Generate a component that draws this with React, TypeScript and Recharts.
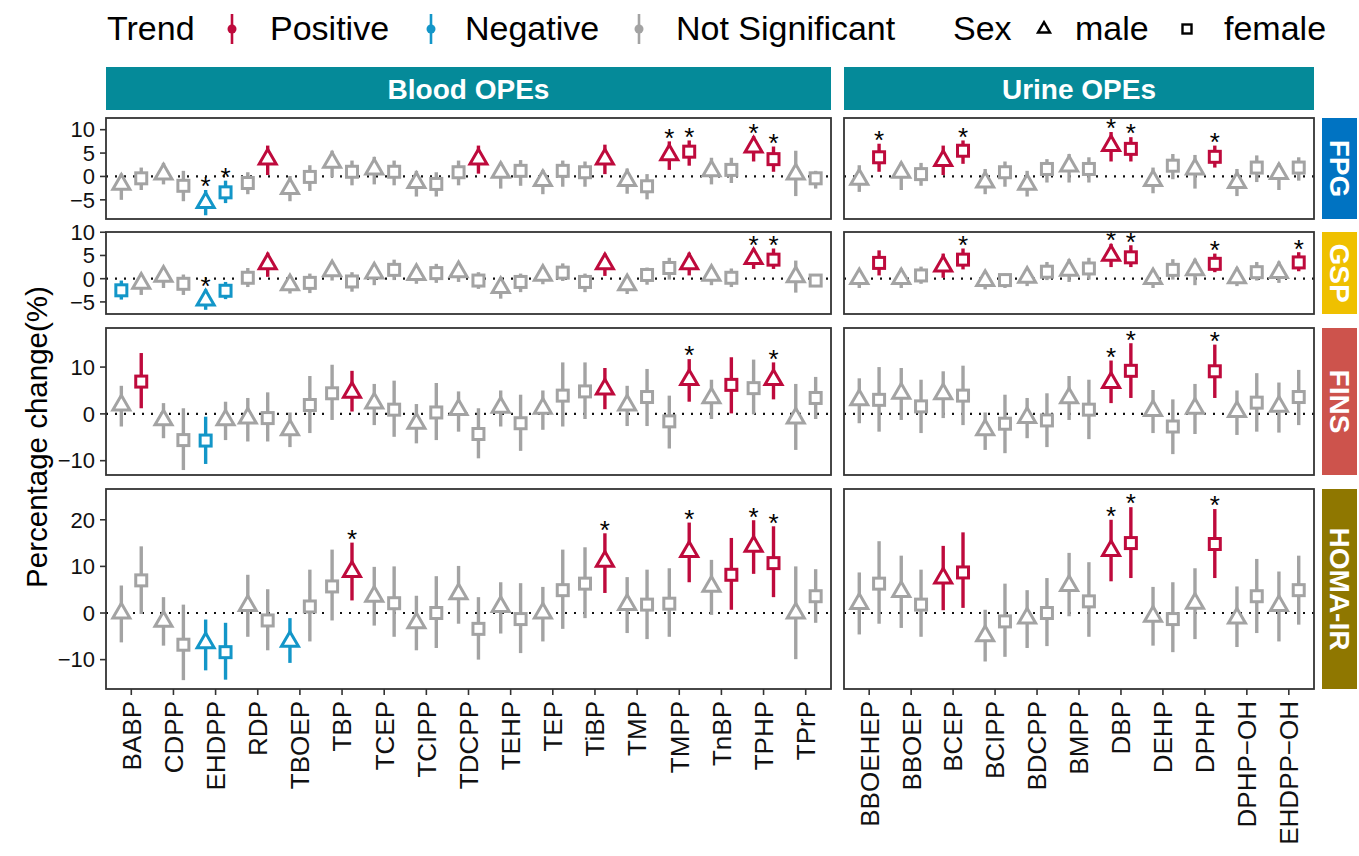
import React from 'react';
import { ScatterChart, Scatter, XAxis, YAxis, ErrorBar, ReferenceLine } from 'recharts';

// [estimate, lower CI, upper CI, trend (P positive / N negative / S not significant), star]
type Pt = [number, number, number, string, number];

const bloodCompounds = ['BABP', 'CDPP', 'EHDPP', 'RDP', 'TBOEP', 'TBP', 'TCEP', 'TCIPP', 'TDCPP', 'TEHP', 'TEP', 'TiBP', 'TMP', 'TMPP', 'TnBP', 'TPHP', 'TPrP'];
const urineCompounds = ['BBOEHEP', 'BBOEP', 'BCEP', 'BCIPP', 'BDCPP', 'BMPP', 'DBP', 'DEHP', 'DPHP', 'DPHP\u2212OH', 'EHDPP\u2212OH'];

const outcomes = ['FPG', 'GSP', 'FINS', 'HOMA-IR'];
const yTicksFPG = [-5, 0, 5, 10];
const yTicksGSP = [-5, 0, 5, 10];
const yTicksFINS = [-10, 0, 10];
const yTicksHOMA = [-10, 0, 10, 20];

// ---------- Blood ----------
const bloodFPGMale: Pt[] = [
  [-1.7, -5.0, 0.6, 'S', 0], [0.5, -1.7, 2.9, 'S', 0], [-5.6, -8.3, -2.9, 'N', 1], [3.7, 0.3, 6.6, 'P', 0],
  [-2.6, -5.3, 0.1, 'S', 0], [3.0, -0.2, 5.5, 'S', 0], [1.6, -1.7, 4.2, 'S', 0], [-1.3, -4.3, 1.2, 'S', 0],
  [3.7, 0.6, 6.6, 'P', 0], [0.9, -2.6, 3.0, 'S', 0], [-0.9, -3.8, 1.4, 'S', 0], [3.7, 0.5, 6.8, 'P', 0],
  [-0.9, -3.7, 1.7, 'S', 0], [4.6, 1.4, 7.5, 'P', 1], [1.2, -1.7, 4.0, 'S', 0], [6.3, 3.2, 8.6, 'P', 1],
  [0.5, -4.2, 5.5, 'S', 0],
];
const bloodFPGFemale: Pt[] = [
  [-0.4, -2.9, 1.9, 'S', 0], [-2.0, -5.3, 1.2, 'S', 0], [-3.4, -5.7, -0.9, 'N', 1], [-1.4, -3.8, 0.9, 'S', 0],
  [-0.1, -3.1, 2.4, 'S', 0], [1.0, -1.9, 3.4, 'S', 0], [1.0, -1.9, 3.4, 'S', 0], [-1.6, -4.3, 0.9, 'S', 0],
  [0.9, -1.9, 3.4, 'S', 0], [1.2, -2.0, 3.5, 'S', 0], [1.2, -2.2, 3.4, 'S', 0], [0.9, -2.2, 3.2, 'S', 0],
  [-2.1, -4.9, 0.5, 'S', 0], [5.3, 2.3, 7.7, 'P', 1], [1.4, -1.4, 4.0, 'S', 0], [3.7, 1.0, 6.4, 'P', 1],
  [-0.4, -2.6, 1.2, 'S', 0],
];
const bloodGSPMale: Pt[] = [
  [-1.0, -3.5, 1.1, 'S', 0], [0.5, -2.0, 2.3, 'S', 0], [-4.6, -6.7, -2.3, 'N', 1], [3.2, 0.4, 5.6, 'P', 0],
  [-1.3, -3.2, 0.7, 'S', 0], [1.7, -0.4, 3.7, 'S', 0], [1.2, -1.4, 3.0, 'S', 0], [0.9, -1.1, 2.7, 'S', 0],
  [1.5, -0.7, 3.4, 'S', 0], [-1.9, -4.3, 0.3, 'S', 0], [0.7, -1.2, 2.6, 'S', 0], [3.2, 0.6, 5.4, 'P', 0],
  [-1.3, -3.3, 0.4, 'S', 0], [3.2, 0.7, 5.6, 'P', 0], [0.7, -1.4, 2.5, 'S', 0], [4.3, 2.1, 6.5, 'P', 1],
  [0.4, -3.0, 3.9, 'S', 0],
];
const bloodGSPFemale: Pt[] = [
  [-2.5, -4.5, -0.4, 'N', 0], [-1.1, -3.5, 0.9, 'S', 0], [-2.6, -4.4, -0.7, 'N', 0], [0.2, -1.8, 2.3, 'S', 0],
  [-0.9, -3.1, 1.1, 'S', 0], [-0.6, -2.8, 1.4, 'S', 0], [1.9, -0.3, 4.1, 'S', 0], [1.2, -0.9, 3.2, 'S', 0],
  [-0.4, -2.2, 1.4, 'S', 0], [-0.7, -2.9, 1.1, 'S', 0], [1.3, -0.5, 3.3, 'S', 0], [-0.7, -2.9, 1.1, 'S', 0],
  [0.8, -1.3, 2.4, 'S', 0], [2.3, -0.2, 4.5, 'S', 0], [0.2, -1.8, 2.2, 'S', 0], [4.1, 2.1, 6.5, 'P', 1],
  [-0.4, -1.8, 0.9, 'S', 0],
];
const bloodFINSMale: Pt[] = [
  [1.9, -2.7, 6.0, 'S', 0], [-1.3, -5.2, 2.3, 'S', 0], [-1.3, -5.6, 2.6, 'S', 0], [-0.9, -5.9, 3.4, 'S', 0],
  [-3.4, -7.1, 0.3, 'S', 0], [4.6, 0.5, 9.2, 'P', 0], [2.3, -2.4, 6.4, 'S', 0], [-2.0, -6.3, 2.1, 'S', 0],
  [0.9, -3.8, 4.8, 'S', 0], [1.4, -2.7, 5.0, 'S', 0], [1.2, -3.4, 5.0, 'S', 0], [5.3, 1.0, 9.8, 'P', 0],
  [1.9, -2.6, 6.0, 'S', 0], [7.3, 2.6, 11.7, 'P', 1], [3.4, -1.1, 7.3, 'S', 0], [7.3, 3.1, 11.0, 'P', 1],
  [-0.9, -7.7, 6.4, 'S', 0],
];
const bloodFINSFemale: Pt[] = [
  [6.9, 1.2, 13.0, 'P', 0], [-5.6, -12.0, 1.2, 'S', 0], [-5.7, -10.7, -0.6, 'N', 0], [-0.9, -5.9, 4.6, 'S', 0],
  [1.9, -4.1, 8.1, 'S', 0], [4.4, -1.3, 10.5, 'S', 0], [0.9, -4.9, 7.1, 'S', 0], [0.3, -5.6, 6.6, 'S', 0],
  [-4.3, -9.5, 1.2, 'S', 0], [-2.0, -7.9, 4.1, 'S', 0], [3.9, -2.7, 11.0, 'S', 0], [4.8, -1.1, 11.0, 'S', 0],
  [3.6, -2.6, 9.6, 'S', 0], [-1.6, -7.4, 3.9, 'S', 0], [6.2, 0.1, 12.1, 'P', 0], [5.5, -0.1, 11.6, 'S', 0],
  [3.4, -1.1, 7.9, 'S', 0],
];
const bloodHOMAMale: Pt[] = [
  [0.0, -6.3, 5.9, 'S', 0], [-1.8, -7.0, 3.4, 'S', 0], [-6.4, -12.3, -1.4, 'N', 0], [1.6, -5.1, 8.2, 'S', 0],
  [-6.1, -10.7, -1.1, 'N', 0], [8.9, 2.7, 15.1, 'P', 1], [3.6, -2.7, 9.9, 'S', 0], [-2.1, -8.0, 3.7, 'S', 0],
  [4.1, -2.3, 10.1, 'S', 0], [1.4, -4.4, 6.6, 'S', 0], [0.0, -6.1, 5.6, 'S', 0], [11.1, 4.3, 17.1, 'P', 1],
  [1.8, -4.3, 7.7, 'S', 0], [13.2, 6.6, 19.4, 'P', 1], [5.7, -0.4, 11.4, 'S', 0], [14.3, 8.4, 19.9, 'P', 1],
  [0.0, -9.9, 10.0, 'S', 0],
];
const bloodHOMAFemale: Pt[] = [
  [7.0, -0.2, 14.3, 'S', 0], [-6.8, -14.4, 1.8, 'S', 0], [-8.4, -14.3, -2.1, 'N', 0], [-1.6, -8.0, 5.1, 'S', 0],
  [1.4, -6.1, 9.3, 'S', 0], [5.7, -1.6, 13.6, 'S', 0], [2.1, -5.1, 10.0, 'S', 0], [0.0, -7.5, 7.9, 'S', 0],
  [-3.4, -10.0, 3.4, 'S', 0], [-1.3, -8.6, 6.4, 'S', 0], [4.9, -3.4, 13.6, 'S', 0], [6.3, -1.1, 14.1, 'S', 0],
  [1.8, -5.6, 9.3, 'S', 0], [2.0, -5.1, 9.6, 'S', 0], [8.2, 0.7, 16.1, 'P', 0], [10.7, 3.4, 18.6, 'P', 1],
  [3.6, -2.1, 9.4, 'S', 0],
];

// ---------- Urine ----------
const urineFPGMale: Pt[] = [
  [-0.6, -3.3, 2.4, 'S', 0], [0.9, -2.9, 3.0, 'S', 0], [3.4, 0.3, 6.6, 'P', 0], [-1.2, -3.8, 1.6, 'S', 0],
  [-1.7, -4.3, 1.2, 'S', 0], [2.2, -1.3, 4.8, 'S', 0], [6.6, 3.2, 9.5, 'P', 1], [-0.9, -3.6, 1.9, 'S', 0],
  [1.6, -2.6, 4.6, 'S', 0], [-1.3, -4.2, 1.6, 'S', 0], [0.6, -2.9, 2.8, 'S', 0],
];
const urineFPGFemale: Pt[] = [
  [4.1, 1.0, 7.0, 'P', 1], [0.5, -2.0, 2.9, 'S', 0], [5.5, 2.7, 7.7, 'P', 1], [0.9, -2.2, 3.2, 'S', 0],
  [1.6, -1.3, 3.7, 'S', 0], [1.6, -1.3, 4.1, 'S', 0], [5.9, 3.2, 8.4, 'P', 1], [2.3, -0.6, 4.8, 'S', 0],
  [4.2, 1.9, 6.6, 'P', 1], [1.9, -1.2, 4.5, 'S', 0], [1.9, -0.9, 4.1, 'S', 0],
];
const urineGSPMale: Pt[] = [
  [0.0, -2.0, 1.8, 'S', 0], [0.0, -2.0, 2.2, 'S', 0], [2.7, 0.2, 5.4, 'P', 0], [-0.4, -2.3, 1.4, 'S', 0],
  [0.3, -1.6, 2.3, 'S', 0], [1.8, -0.7, 4.2, 'S', 0], [5.0, 2.5, 7.5, 'P', 1], [0.0, -2.0, 2.1, 'S', 0],
  [1.9, -1.4, 4.3, 'S', 0], [0.2, -1.6, 2.4, 'S', 0], [1.3, -0.9, 3.7, 'S', 0],
];
const urineGSPFemale: Pt[] = [
  [3.4, 0.7, 6.1, 'P', 0], [0.7, -1.1, 2.6, 'S', 0], [4.1, 2.0, 6.5, 'P', 1], [-0.3, -2.0, 1.1, 'S', 0],
  [1.5, -0.3, 3.6, 'S', 0], [2.2, -0.2, 4.5, 'S', 0], [4.6, 2.5, 7.2, 'P', 1], [1.9, -0.2, 4.2, 'S', 0],
  [3.2, 1.4, 5.4, 'P', 1], [1.4, -0.4, 3.6, 'S', 0], [3.5, 1.6, 5.7, 'P', 1],
];
const urineFINSMale: Pt[] = [
  [3.0, -2.0, 7.6, 'S', 0], [4.4, -1.3, 9.8, 'S', 0], [4.3, -0.9, 9.1, 'S', 0], [-3.4, -7.7, 0.3, 'S', 0],
  [-0.8, -5.2, 3.4, 'S', 0], [3.4, -1.3, 8.1, 'S', 0], [6.7, 2.3, 11.4, 'P', 1], [0.7, -4.1, 5.1, 'S', 0],
  [1.2, -4.3, 6.4, 'S', 0], [0.5, -4.5, 5.0, 'S', 0], [1.6, -4.0, 6.7, 'S', 0],
];
const urineFINSFemale: Pt[] = [
  [3.0, -3.8, 10.0, 'S', 0], [1.6, -4.1, 7.3, 'S', 0], [3.9, -2.4, 10.3, 'S', 0], [-2.1, -8.4, 4.1, 'S', 0],
  [-1.4, -7.1, 4.4, 'S', 0], [0.9, -5.4, 7.3, 'S', 0], [9.2, 3.4, 15.1, 'P', 1], [-2.7, -8.6, 3.1, 'S', 0],
  [9.1, 3.4, 14.8, 'P', 1], [2.4, -3.8, 8.7, 'S', 0], [3.6, -2.4, 9.4, 'S', 0],
];
const urineHOMAMale: Pt[] = [
  [2.0, -4.6, 8.7, 'S', 0], [4.6, -3.2, 12.3, 'S', 0], [7.5, 0.6, 14.4, 'P', 0], [-4.9, -10.4, 0.7, 'S', 0],
  [-1.1, -7.5, 4.9, 'S', 0], [5.9, -0.7, 12.9, 'S', 0], [13.4, 6.8, 20.0, 'P', 1], [-0.7, -7.0, 5.6, 'S', 0],
  [2.1, -5.6, 9.6, 'S', 0], [-1.1, -7.3, 5.7, 'S', 0], [1.6, -6.1, 8.9, 'S', 0],
];
const urineHOMAFemale: Pt[] = [
  [6.3, -2.3, 15.4, 'S', 0], [1.8, -5.1, 9.3, 'S', 0], [8.7, 1.1, 17.3, 'P', 0], [-1.8, -9.4, 6.3, 'S', 0],
  [0.0, -7.1, 7.5, 'S', 0], [2.5, -5.1, 10.9, 'S', 0], [15.0, 7.5, 22.7, 'P', 1], [-1.3, -8.4, 6.6, 'S', 0],
  [14.8, 7.5, 22.3, 'P', 1], [3.6, -4.3, 11.6, 'S', 0], [4.9, -2.5, 12.3, 'S', 0],
];

// ---------- styling / layout ----------
const FONT = '"Liberation Sans", Arial, Helvetica, sans-serif';
const COLORS: Record<string, string> = { P: '#BE0A3C', N: '#1396C8', S: '#A3A3A3' };
const TREND_ORDER: Record<string, number> = { N: 0, S: 1, P: 2 };
const STRIP_TEAL = '#058A99';
const ROW_COLORS = ['#0073C2', '#EFC000', '#CD534C', '#8F7700'];
const DODGE = 0.236;
const YW = 62;
const XH = 167;
const PAD = 16;

const rows = [
  { top: 118, height: 101, domain: [-9.1, 12.5], ticks: yTicksFPG },
  { top: 232, height: 82, domain: [-7.6, 10.05], ticks: yTicksGSP },
  { top: 328, height: 147, domain: [-13.06, 18.35], ticks: yTicksFINS },
  { top: 489, height: 200, domain: [-16.3, 26.6], ticks: yTicksHOMA },
];
const cols = [
  { left: 106, width: 725, title: 'Blood OPEs', compounds: bloodCompounds,
    data: [[bloodFPGMale, bloodFPGFemale], [bloodGSPMale, bloodGSPFemale], [bloodFINSMale, bloodFINSFemale], [bloodHOMAMale, bloodHOMAFemale]] },
  { left: 844, width: 470, title: 'Urine OPEs', compounds: urineCompounds,
    data: [[urineFPGMale, urineFPGFemale], [urineGSPMale, urineGSPFemale], [urineFINSMale, urineFINSFemale], [urineHOMAMale, urineHOMAFemale]] },
];

type P = { x: number; y: number; err: [number, number]; trend: string; sex: string; star: number; hi: number };

function buildPoints(compounds: string[], male: Pt[], female: Pt[]): P[] {
  const out: P[] = [];
  compounds.forEach((_, i) => {
    const pair = [
      { sex: 'male', d: male[i], so: 0 },
      { sex: 'female', d: female[i], so: 1 },
    ];
    pair.sort((a, b) => TREND_ORDER[a.d[3]] - TREND_ORDER[b.d[3]] || a.so - b.so);
    pair.forEach((p, k) => {
      const [est, lo, hi, trend, star] = p.d;
      out.push({
        x: i + 1 + (k === 0 ? -DODGE : DODGE),
        y: est,
        err: [est - lo, hi - est],
        trend,
        sex: p.sex,
        star,
        hi,
      });
    });
  });
  return out;
}

const triShape = (color: string) => (props: any) => {
  const { cx, cy } = props;
  if (cx == null || cy == null) return <g />;
  const s = 17;
  const h = (s * Math.sqrt(3)) / 2;
  return (
    <polygon
      points={`${cx},${cy - (2 * h) / 3} ${cx + s / 2},${cy + h / 3} ${cx - s / 2},${cy + h / 3}`}
      fill="#fff"
      stroke={color}
      strokeWidth={3}
    />
  );
};
const sqShape = (color: string) => (props: any) => {
  const { cx, cy } = props;
  if (cx == null || cy == null) return <g />;
  return <rect x={cx - 5.5} y={cy - 5.5} width={11} height={11} fill="#fff" stroke={color} strokeWidth={3} />;
};
const starShape = (props: any) => {
  const { cx, cy } = props;
  if (cx == null || cy == null) return <g />;
  return (
    <text x={cx} y={cy + 5.3} textAnchor="middle" fontSize={26} fontFamily={FONT} fill="#000">
      *
    </text>
  );
};

const minusFmt = (v: number) => (v < 0 ? '\u2212' + Math.abs(v) : String(v));

function Panel({ col, rowIdx }: { col: typeof cols[number]; rowIdx: number }) {
  const row = rows[rowIdx];
  const showY = col.left < 500;
  const showX = rowIdx === rows.length - 1;
  const n = col.compounds.length;
  const pts = buildPoints(col.compounds, col.data[rowIdx][0], col.data[rowIdx][1]);
  const w = col.width + (showY ? YW : 0);
  const h = row.height + PAD + (showX ? XH : 0);
  const series: React.ReactNode[] = [];
  ['N', 'S', 'P'].forEach((t) => {
    ['male', 'female'].forEach((s) => {
      const d = pts.filter((p) => p.trend === t && p.sex === s);
      if (!d.length) return;
      series.push(
        <Scatter
          key={t + s}
          data={d}
          isAnimationActive={false}
          shape={s === 'male' ? triShape(COLORS[t]) : sqShape(COLORS[t])}
        >
          <ErrorBar dataKey="err" direction="y" width={0} stroke={COLORS[t]} strokeWidth={3.4} />
        </Scatter>
      );
    });
  });
  const stars = pts.filter((p) => p.star).map((p) => ({ x: p.x, y: p.hi }));
  const names = col.compounds;
  const XTick = (props: any) => {
    const { x, y, payload } = props;
    return (
      <text
        transform={`translate(${x},${y}) rotate(-90)`}
        textAnchor="end"
        dy="0.36em"
        fontSize={26}
        fontFamily={FONT}
        fill="#111"
      >
        {names[payload.value - 1]}
      </text>
    );
  };
  return (
    <div style={{ position: 'absolute', left: col.left - (showY ? YW : 0), top: row.top - PAD, width: w, height: h }}>
      <ScatterChart width={w} height={h} margin={{ top: PAD, right: 0, bottom: 0, left: 0 }}>
        <XAxis
          type="number"
          dataKey="x"
          domain={[0.4, n + 0.6]}
          ticks={names.map((_, i) => i + 1)}
          interval={0}
          hide={!showX}
          height={XH}
          axisLine={false}
          tickLine={{ stroke: '#333', strokeWidth: 1.6 }}
          tickSize={6}
          tickMargin={6}
          tick={<XTick />}
        />
        <YAxis
          type="number"
          dataKey="y"
          domain={row.domain}
          ticks={row.ticks}
          interval={0}
          hide={!showY}
          width={YW}
          axisLine={false}
          tickLine={{ stroke: '#333', strokeWidth: 1.6 }}
          tickSize={6}
          tickMargin={5}
          tickFormatter={minusFmt}
          tick={{ fill: '#111', fontSize: 22, fontFamily: FONT }}
        />
        <ReferenceLine y={0} stroke="#111" strokeWidth={2.2} strokeDasharray="2 7" />
        {series}
        <Scatter key="stars" data={stars} isAnimationActive={false} shape={starShape} />
      </ScatterChart>
    </div>
  );
}

function Overlay() {
  const legendY = 40;
  const keyY = 29;
  const legendText = (x: number, s: string) => (
    <text x={x} y={legendY} fontSize={34} fontFamily={FONT} fill="#000">
      {s}
    </text>
  );
  const key = (x: number, c: string) => (
    <g>
      <line x1={x} x2={x} y1={14} y2={44} stroke={c} strokeWidth={2.6} />
      <circle cx={x} cy={keyY} r={4.5} fill={c} />
    </g>
  );
  const ts = 12;
  const th = (ts * Math.sqrt(3)) / 2;
  return (
    <svg
      width={1359}
      height={856}
      style={{ position: 'absolute', left: 0, top: 0, pointerEvents: 'none' }}
    >
      {legendText(107, 'Trend')}
      {key(232, COLORS.P)}
      {legendText(270, 'Positive')}
      {key(431, COLORS.N)}
      {legendText(465, 'Negative')}
      {key(639, COLORS.S)}
      {legendText(676, 'Not Significant')}
      {legendText(953, 'Sex')}
      <polygon
        points={`1044,${keyY - (2 * th) / 3} ${1044 + ts / 2},${keyY + th / 3} ${1044 - ts / 2},${keyY + th / 3}`}
        fill="none"
        stroke="#000"
        strokeWidth={2.4}
      />
      {legendText(1075, 'male')}
      <rect x={1187 - 4.5} y={keyY - 4.5} width={9} height={9} fill="none" stroke="#000" strokeWidth={2.4} />
      {legendText(1224, 'female')}

      {cols.map((c) => (
        <g key={c.title}>
          <rect x={c.left} y={67} width={c.width} height={43} fill={STRIP_TEAL} />
          <text
            x={c.left + c.width / 2}
            y={89}
            textAnchor="middle"
            dominantBaseline="central"
            fontSize={28}
            fontWeight="bold"
            fontFamily={FONT}
            fill="#fff"
          >
            {c.title}
          </text>
        </g>
      ))}
      {rows.map((r, i) => (
        <g key={i}>
          <rect x={1322} y={r.top} width={35} height={r.height} fill={ROW_COLORS[i]} />
          <text
            transform={`translate(${1339.5},${r.top + r.height / 2}) rotate(90)`}
            textAnchor="middle"
            dominantBaseline="central"
            fontSize={28}
            fontWeight="bold"
            fontFamily={FONT}
            fill="#fff"
          >
            {outcomes[i]}
          </text>
          {cols.map((c) => (
            <rect
              key={c.title}
              x={c.left}
              y={r.top}
              width={c.width}
              height={r.height}
              fill="none"
              stroke="#333"
              strokeWidth={1.8}
            />
          ))}
        </g>
      ))}
      <text
        transform={`translate(36,437) rotate(-90)`}
        textAnchor="middle"
        dominantBaseline="central"
        fontSize={29.5}
        fontFamily={FONT}
        fill="#000"
      >
        Percentage change(%)
      </text>
    </svg>
  );
}

export default function App() {
  return (
    <div style={{ position: 'absolute', left: 0, top: 0, width: 1359, height: 856, background: '#fff', fontFamily: FONT }}>
      {cols.map((c) => rows.map((_, ri) => <Panel key={c.title + ri} col={c} rowIdx={ri} />))}
      <Overlay />
    </div>
  );
}
